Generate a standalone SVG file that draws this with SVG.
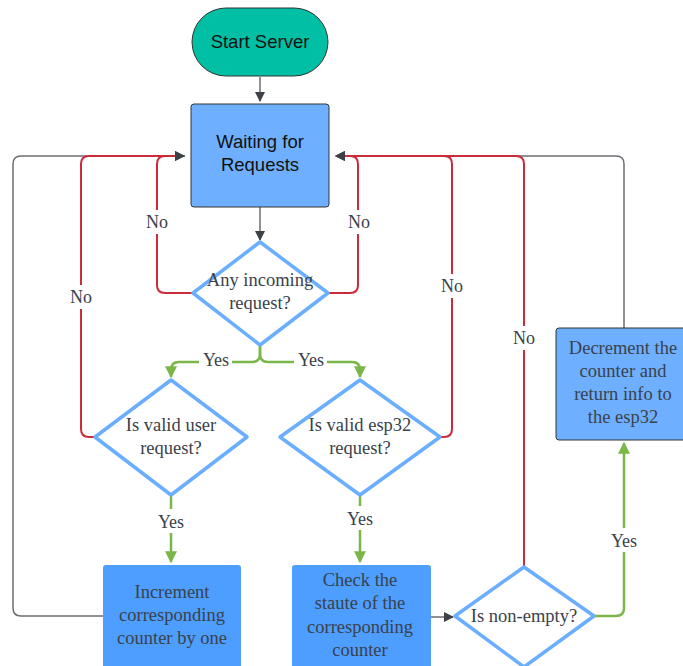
<svg xmlns="http://www.w3.org/2000/svg" width="683" height="666" viewBox="0 0 683 666">
<defs>
<style>
.sans{font-family:"Liberation Sans",Arial,sans-serif;font-size:18.5px;fill:#111;text-anchor:middle}
.serif{font-family:"Liberation Serif","Times New Roman",serif;font-size:18.5px;fill:#3a414a;text-anchor:middle}
.lbl{font-family:"Liberation Serif","Times New Roman",serif;font-size:18px;fill:#3a414a;text-anchor:middle}
.red{fill:none;stroke:#c92d39;stroke-width:2}
.grn{fill:none;stroke:#7ab648;stroke-width:2.5}
.gry{fill:none;stroke:#6b6e73;stroke-width:1.5}
.dia{fill:#fff;stroke:#6aaeff;stroke-width:3.5;stroke-linejoin:round}
.lb{fill:#fff}
</style>
<marker id="ad" viewBox="0 0 10 10" refX="9" refY="5" markerWidth="10" markerHeight="10" markerUnits="userSpaceOnUse" orient="auto"><path d="M0,0 L10,5 L0,10 Z" fill="#3d4047"/></marker>
<marker id="ag" viewBox="0 0 10 10" refX="9" refY="5" markerWidth="12" markerHeight="12" markerUnits="userSpaceOnUse" orient="auto"><path d="M0,0 L10,5 L0,10 Z" fill="#7ab648"/></marker>
</defs>
<rect width="683" height="666" fill="#fff"/>
<g id="connectors">
<path class="gry" d="M103,616 H21 Q13,616 13,608 V164 Q13,156 21,156 H185" />
<path class="gry" d="M624,328 V164 Q624,156 616,156 H340" />
<path class="red" d="M95,437 H89 Q81,437 81,429 V164 Q81,156 89,156 H184" marker-end="url(#ad)"/>
<path class="red" d="M193,293 H165 Q157,293 157,285 V164 Q157,156 165,156 H184" marker-end="url(#ad)"/>
<path class="red" d="M328,293 H350 Q358,293 358,285 V164 Q358,156 350,156 H336" marker-end="url(#ad)"/>
<path class="red" d="M440,437 H444 Q452,437 452,429 V164 Q452,156 444,156 H336" marker-end="url(#ad)"/>
<path class="red" d="M524,567 V164 Q524,156 516,156 H336" marker-end="url(#ad)"/>
<path class="gry" d="M260,77 V101" stroke="#4a4d52" marker-end="url(#ad)"/>
<path class="gry" d="M260,207 V240" stroke="#4a4d52" marker-end="url(#ad)"/>
<path class="gry" d="M431,617 H453" stroke="#3d4047" marker-end="url(#ad)"/>
<path class="grn" d="M260,345 V354 Q260,362 252,362 H179 Q171,362 171,370 V377" marker-end="url(#ag)"/>
<path class="grn" d="M260,345 V354 Q260,362 268,362 H352 Q360,362 360,370 V377" marker-end="url(#ag)"/>
<path class="grn" d="M171,495 V562" marker-end="url(#ag)"/>
<path class="grn" d="M360,495 V562" marker-end="url(#ag)"/>
<path class="grn" d="M594,616 H616 Q624,616 624,608 V443" marker-end="url(#ag)"/>
</g>
<g id="labels">
<rect class="lb" x="143" y="210" width="28" height="24"/><text class="lbl" x="157" y="228">No</text>
<rect class="lb" x="345" y="210" width="28" height="24"/><text class="lbl" x="359" y="228">No</text>
<rect class="lb" x="67" y="285" width="28" height="24"/><text class="lbl" x="81" y="303">No</text>
<rect class="lb" x="438" y="274" width="28" height="24"/><text class="lbl" x="452" y="292">No</text>
<rect class="lb" x="510" y="326" width="28" height="24"/><text class="lbl" x="524" y="344">No</text>
<rect class="lb" x="199" y="349" width="33" height="22"/><text class="lbl" x="216" y="366">Yes</text>
<rect class="lb" x="294" y="349" width="33" height="22"/><text class="lbl" x="311" y="366">Yes</text>
<rect class="lb" x="155" y="509" width="33" height="24"/><text class="lbl" x="171" y="528">Yes</text>
<rect class="lb" x="344" y="506" width="33" height="24"/><text class="lbl" x="360" y="525">Yes</text>
<rect class="lb" x="608" y="528" width="33" height="24"/><text class="lbl" x="624" y="547">Yes</text>
</g>
<g id="start">
<rect x="192" y="8" width="136" height="68" rx="34" fill="#00bfa5" stroke="#333" stroke-width="1"/>
<text class="sans" x="260" y="48">Start Server</text>
</g>
<g id="waiting">
<rect x="191" y="104" width="138" height="103" rx="3" fill="#6eb0ff" stroke="#333" stroke-width="1"/>
<text class="sans" x="260" y="148">Waiting for</text>
<text class="sans" x="260" y="171">Requests</text>
</g>
<g id="any">
<path class="dia" d="M260,242 L328,293 L260,345 L193,293 Z"/>
<text class="serif" x="260" y="286">Any incoming</text>
<text class="serif" x="260" y="309">request?</text>
</g>
<g id="user">
<path class="dia" d="M171,380 L247,437 L171,495 L95,437 Z"/>
<text class="serif" x="171" y="431">Is valid user</text>
<text class="serif" x="171" y="454">request?</text>
</g>
<g id="esp">
<path class="dia" d="M360,380 L440,437 L360,495 L280,437 Z"/>
<text class="serif" x="360" y="431">Is valid esp32</text>
<text class="serif" x="360" y="454">request?</text>
</g>
<g id="increment">
<rect x="103" y="565" width="138" height="110" rx="3" fill="#4d9eff"/>
<text class="serif" x="172" y="598">Increment</text>
<text class="serif" x="172" y="621">corresponding</text>
<text class="serif" x="172" y="644">counter by one</text>
</g>
<g id="check">
<rect x="292" y="565" width="139" height="110" rx="3" fill="#4d9eff"/>
<text class="serif" x="360" y="586">Check the</text>
<text class="serif" x="360" y="609">staute of the</text>
<text class="serif" x="360" y="633">corresponding</text>
<text class="serif" x="360" y="656">counter</text>
</g>
<g id="nonempty">
<path class="dia" d="M524,567 L594,616 L524,667 L455,616 Z"/>
<text class="serif" x="524" y="622">Is non-empty?</text>
</g>
<g id="decrement">
<rect x="556" y="328" width="140" height="112" rx="3" fill="#6eb0ff" stroke="#333" stroke-width="1"/>
<text class="serif" x="623" y="354">Decrement the</text>
<text class="serif" x="623" y="377">counter and</text>
<text class="serif" x="623" y="400">return info to</text>
<text class="serif" x="623" y="423">the esp32</text>
</g>
</svg>
